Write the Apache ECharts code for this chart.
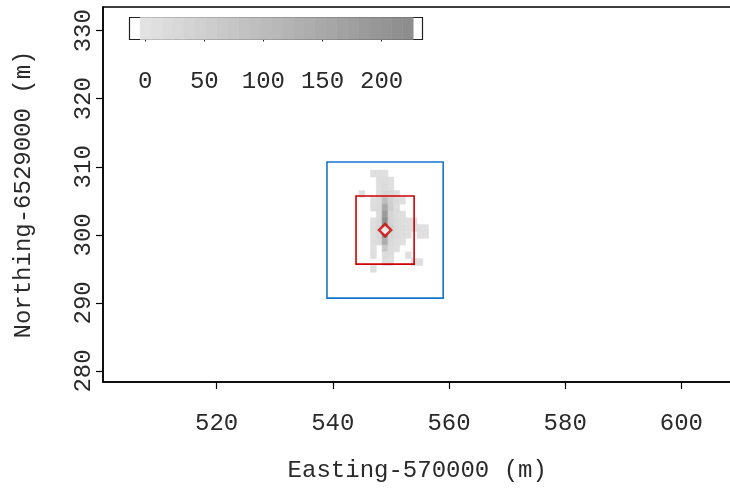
<!DOCTYPE html>
<html>
<head>
<meta charset="utf-8">
<script src="https://cdn.jsdelivr.net/npm/echarts@6/dist/echarts.min.js"></script>
<style>
  html, body { margin: 0; padding: 0; background: #ffffff; }
  #chart { width: 730px; height: 490px; }
</style>
</head>
<body>
<div id="chart"></div>
<script>
// Axis ticks (local offsets in metres)
const xTicks = [520, 540, 560, 580, 600];
const yTicks = [280, 290, 300, 310, 320, 330];
const legendTicks = [0, 50, 100, 150, 200];

// Visible extents of the map and of the colour key
const xRange = [500.45, 610];
const yRange = [278.38, 333.48];
const legendRange = [-13.3, 234.6];

// Value range covered by the grey scale, and the number of key steps
const valueRange = [-4.2, 226.7];
const legendSteps = 25;
const greyStops = ['#e4e4e4', '#8b8b8b'];

// Gridded density: [easting, northing, value], 1 m cells
const cells = [
  [547, 309, 8], [548, 309, 10], [549, 309, 6],
  [548, 308, 12], [549, 308, 15], [550, 308, 8],
  [548, 307, 10], [549, 307, 18], [550, 307, 10],
  [545, 306, 8], [548, 306, 14], [549, 306, 30], [550, 306, 25], [551, 306, 12],
  [547, 305, 10], [548, 305, 18], [549, 305, 95], [550, 305, 45], [551, 305, 20], [552, 305, 8],
  [547, 304, 12], [548, 304, 22], [549, 304, 150], [550, 304, 55], [551, 304, 15],
  [548, 303, 20], [549, 303, 185], [550, 303, 35], [551, 303, 15], [552, 303, 10],
  [547, 302, 10], [548, 302, 25], [549, 302, 215], [550, 302, 40], [551, 302, 20], [552, 302, 12], [553, 302, 8], [554, 302, 8],
  [547, 301, 12], [548, 301, 30], [549, 301, 226], [550, 301, 45], [551, 301, 22], [552, 301, 15], [553, 301, 10], [554, 301, 8], [555, 301, 10], [556, 301, 6],
  [547, 300, 10], [548, 300, 25], [549, 300, 200], [550, 300, 35], [551, 300, 18], [552, 300, 12], [553, 300, 8], [555, 300, 8], [556, 300, 10],
  [547, 299, 8], [548, 299, 18], [549, 299, 140], [550, 299, 25], [551, 299, 12], [552, 299, 8],
  [547, 298, 6], [549, 298, 70], [550, 298, 18], [551, 298, 8],
  [547, 297, 8], [549, 297, 20], [550, 297, 14], [553, 297, 8],
  [549, 296, 12], [550, 296, 10], [554, 296, 10], [555, 296, 8],
  [547, 295, 8]
];

// Reference location and the two search windows around it (half-widths in m)
const centre = [549, 300.7];
const windowHalfWidths = [10, 5];
const windowColours = ['#1874CD', '#CD0000'];

const FONT = 'Liberation Mono';
const TEXT = '#2a2a2a';
const FS = 24;

// Colour key steps: [from, to, mid-value]
const keySteps = [];
const stepWidth = (valueRange[1] - valueRange[0]) / legendSteps;
for (let i = 0; i < legendSteps; i++) {
  const lo = valueRange[0] + i * stepWidth;
  keySteps.push([lo, lo + stepWidth, lo + stepWidth / 2]);
}

const windows = windowHalfWidths.map((h, i) => [centre[0], centre[1], h, i]);

const chart = echarts.init(document.getElementById('chart'), null, { renderer: 'canvas' });

chart.setOption({
  animation: false,
  backgroundColor: '#ffffff',
  grid: [
    { left: 103, top: 7, width: (xRange[1] - xRange[0]) * 5.81, height: 375,
      show: true, borderColor: '#000', borderWidth: 1.5,
      containLabel: false, outerBoundsMode: 'none' },
    { left: 129.5, top: 17.5, width: 293, height: 22,
      show: true, borderColor: '#222', borderWidth: 1.2,
      containLabel: false, outerBoundsMode: 'none' }
  ],
  xAxis: [
    {
      type: 'value', gridIndex: 0, min: xRange[0], max: xRange[1],
      axisLine: { show: true, lineStyle: { color: '#000', width: 1.5 } },
      axisTick: { show: true, customValues: xTicks, length: 7, lineStyle: { color: '#000', width: 1.2 } },
      axisLabel: { customValues: xTicks, fontFamily: FONT, fontSize: FS, color: TEXT, margin: 30 },
      splitLine: { show: false },
      name: 'Easting-570000 (m)', nameLocation: 'middle', nameGap: 77,
      nameTextStyle: { fontFamily: FONT, fontSize: FS, color: TEXT, padding: [0, 8, 0, 0] }
    },
    {
      type: 'value', gridIndex: 1, min: legendRange[0], max: legendRange[1],
      axisLine: { show: false },
      axisTick: { show: true, customValues: legendTicks, length: 2, lineStyle: { color: '#222', width: 1 } },
      axisLabel: { customValues: legendTicks, fontFamily: FONT, fontSize: FS, color: TEXT, margin: 30 },
      splitLine: { show: false }
    }
  ],
  yAxis: [
    {
      type: 'value', gridIndex: 0, min: yRange[0], max: yRange[1],
      axisLine: { show: true, lineStyle: { color: '#000', width: 1.5 } },
      axisTick: { show: true, customValues: yTicks, length: 7, lineStyle: { color: '#000', width: 1.2 } },
      axisLabel: { customValues: yTicks, rotate: 90, fontFamily: FONT, fontSize: FS, color: TEXT, margin: 7 },
      splitLine: { show: false },
      name: 'Northing-6529000 (m)', nameLocation: 'middle', nameGap: 67,
      nameTextStyle: { fontFamily: FONT, fontSize: FS, color: TEXT }
    },
    { type: 'value', gridIndex: 1, min: 0, max: 1, show: false }
  ],
  visualMap: {
    type: 'continuous', show: false, dimension: 2, seriesIndex: [0, 1],
    min: valueRange[0], max: valueRange[1],
    inRange: { color: greyStops }
  },
  series: [
    {
      // density cells
      type: 'custom', xAxisIndex: 0, yAxisIndex: 0,
      data: cells,
      clip: true,
      renderItem: function (params, api) {
        const x = api.value(0), y = api.value(1);
        const a = api.coord([x - 0.5, y + 0.5]);
        const b = api.coord([x + 0.5, y - 0.5]);
        const c = api.visual('color');
        return {
          type: 'rect',
          shape: { x: a[0], y: a[1], width: b[0] - a[0], height: b[1] - a[1] },
          style: { fill: c, stroke: c, lineWidth: 0.6 }
        };
      }
    },
    {
      // colour key
      type: 'custom', xAxisIndex: 1, yAxisIndex: 1,
      data: keySteps,
      renderItem: function (params, api) {
        const a = api.coord([api.value(0), 1]);
        const b = api.coord([api.value(1), 0]);
        const c = api.visual('color');
        return {
          type: 'rect',
          shape: { x: a[0], y: a[1], width: b[0] - a[0], height: b[1] - a[1] },
          style: { fill: c, stroke: c, lineWidth: 0.6 }
        };
      }
    },
    {
      // search windows
      type: 'custom', xAxisIndex: 0, yAxisIndex: 0,
      data: windows,
      renderItem: function (params, api) {
        const cx = api.value(0), cy = api.value(1), h = api.value(2);
        const a = api.coord([cx - h, cy + h]);
        const b = api.coord([cx + h, cy - h]);
        return {
          type: 'rect',
          shape: { x: a[0], y: a[1], width: b[0] - a[0], height: b[1] - a[1] },
          style: { fill: 'none', stroke: windowColours[api.value(3)], lineWidth: 1.6 }
        };
      }
    },
    {
      // reference location
      type: 'scatter', xAxisIndex: 0, yAxisIndex: 0,
      data: [centre],
      symbol: 'diamond', symbolSize: [12, 12],
      itemStyle: { color: '#ffffff', borderColor: '#CD0000', borderWidth: 2.6 },
      z: 5
    }
  ]
});
</script>
</body>
</html>
